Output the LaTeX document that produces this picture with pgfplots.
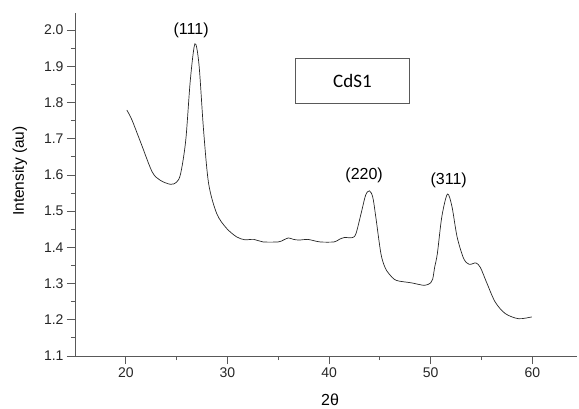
\documentclass[border=0pt]{standalone}
\usepackage{fontspec}
\setmainfont{Liberation Sans}
\newfontfamily\calibri{Carlito}
\usepackage{pgfplots}
\pgfplotsset{compat=1.18}

\pgfplotstableread{
x y
20.1 1.779
20.6 1.752
21.5 1.687
22.6 1.608
23.4 1.585
24.4 1.574
25.0 1.580
25.4 1.604
25.9 1.696
26.35 1.862
26.8 1.962
27.2 1.905
27.65 1.724
28.15 1.576
28.95 1.493
29.9 1.453
30.9 1.429
31.7 1.421
32.6 1.422
33.5 1.415
35.0 1.415
35.5 1.420
36.0 1.426
36.5 1.422
37.1 1.420
37.9 1.422
39.1 1.415
40.5 1.415
41.0 1.422
41.5 1.427
42.3 1.427
42.65 1.438
43.15 1.493
43.6 1.544
43.97 1.556
44.3 1.539
44.6 1.484
45.1 1.383
45.5 1.345
45.9 1.327
46.6 1.309
48.1 1.302
49.4 1.295
50.0 1.302
50.2 1.312
50.4 1.346
50.66 1.383
51.1 1.485
51.65 1.547
52.1 1.512
52.6 1.429
53.25 1.369
53.8 1.353
54.45 1.357
54.9 1.344
55.55 1.300
56.35 1.249
57.35 1.217
58.65 1.203
59.95 1.208
}\xrd

\begin{document}
\begin{tikzpicture}
\useasboundingbox (-75pt,-52pt) rectangle (504pt,356pt);
\begin{axis}[
  scale only axis, width=502pt, height=343pt,
  xmin=15, xmax=64.4, ymin=1.1, ymax=2.047,
  axis x line*=bottom, axis y line*=left,
  axis line style={draw=black!65, line width=0.8pt},
  xtick={20,30,40,50,60}, ytick={1.1,1.2,...,2.01},
  minor x tick num=1, minor y tick num=1,
  tick align=outside,
  major tick length=8pt, minor tick length=4pt,
  tick style={draw=black!65, line width=0.8pt},
  yticklabel style={/pgf/number format/.cd, fixed, fixed zerofill, precision=1},
  /pgf/number format/assume math mode=true,
  tick label style={font=\fontsize{14}{16}\selectfont, text=black!85},
  xlabel={2\textrm{θ}},
  ylabel={Intensity (au)},
  xlabel style={at={(axis description cs:0.508,-0.128)}, anchor=center, font=\fontsize{16}{18}\selectfont},
  ylabel style={at={(axis description cs:-0.11,0.539)}, anchor=center, font=\fontsize{15.5}{18}\selectfont},
  clip=false,
]
\addplot[black!85, line width=0.7pt, smooth, tension=0.5] table {\xrd};
\node[font=\fontsize{16}{18}\selectfont] at (axis cs:26.43,1.998) {(111)};
\node[font=\fontsize{16}{18}\selectfont] at (axis cs:43.45,1.599) {(220)};
\node[font=\fontsize{16}{18}\selectfont] at (axis cs:51.77,1.586) {(311)};
\node[draw=black!65, line width=0.6pt, minimum width=114pt, minimum height=45pt,
  font=\calibri\fontsize{19}{22}\selectfont] at (axis cs:42.3,1.86) {CdS1};
\end{axis}
\end{tikzpicture}
\end{document}
